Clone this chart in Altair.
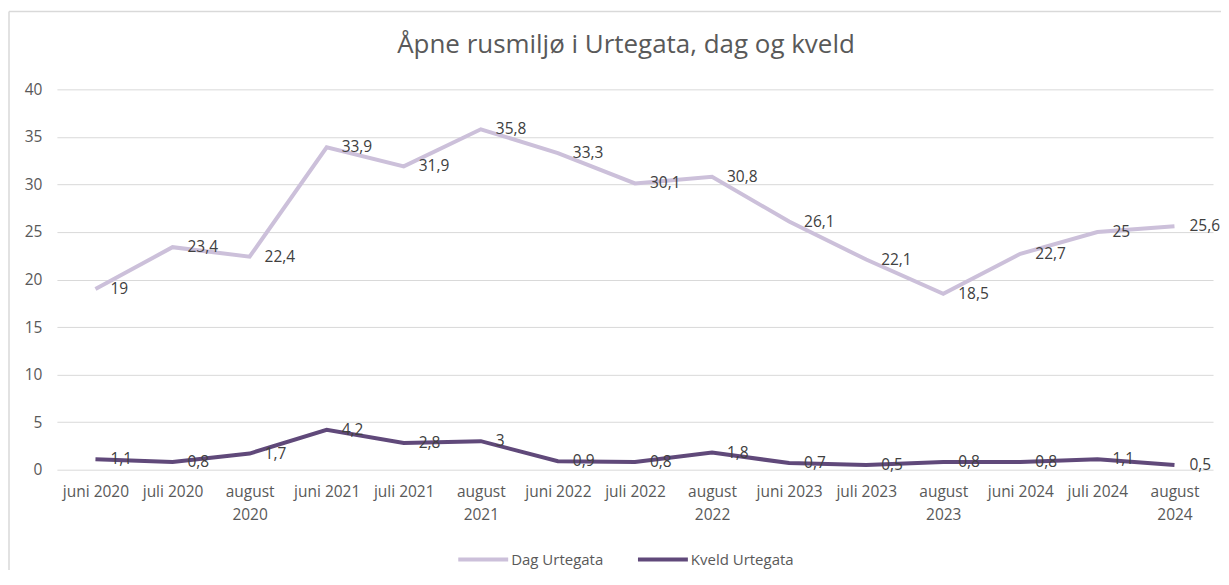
import altair as alt
import pandas as pd

categories = ["juni 2020", "juli 2020", "august 2020", "juni 2021", "juli 2021", "august 2021",
              "juni 2022", "juli 2022", "august 2022", "juni 2023", "juli 2023", "august 2023",
              "juni 2024", "juli 2024", "august 2024"]
dag = [19, 23.4, 22.4, 33.9, 31.9, 35.8, 33.3, 30.1, 30.8, 26.1, 22.1, 18.5, 22.7, 25, 25.6]
kveld = [1.1, 0.8, 1.7, 4.2, 2.8, 3, 0.9, 0.8, 1.8, 0.7, 0.5, 0.8, 0.8, 1.1, 0.5]
series = ["Dag Urtegata", "Kveld Urtegata"]
colors = ["#CCC0DA", "#60497A"]
title_text = "Åpne rusmiljø i Urtegata, dag og kveld"

rows = []
for name, vals in zip(series, [dag, kveld]):
    for i, (c, v) in enumerate(zip(categories, vals)):
        rows.append({"kat": c, "serie": name, "verdi": v, "order": i,
                     "etikett": f"{v:g}".replace(".", ",")})
df = pd.DataFrame(rows)

font = "Open Sans"
grey = "#595959"

x = alt.X("kat:N", sort=categories, scale=alt.Scale(type="point", padding=0.5),
          axis=alt.Axis(title=None, domain=False, ticks=False, grid=False, labelAngle=0,
                        labelPadding=15, labelFontSize=15.5, labelColor=grey, labelFont=font,
                        labelLineHeight=23,
                        labelExpr="indexof(datum.label, 'august') == 0 ? split(datum.label, ' ') : datum.label"))
y = alt.Y("verdi:Q", scale=alt.Scale(domain=[0, 40]),
          axis=alt.Axis(title=None, values=[0, 5, 10, 15, 20, 25, 30, 35, 40], domain=False,
                        ticks=False, labelPadding=15, labelFontSize=15.5, labelColor=grey,
                        labelFont=font, gridColor="#D9D9D9"))

color = alt.Color("serie:N", scale=alt.Scale(domain=series, range=colors),
                  legend=alt.Legend(title=None, orient="none", direction="horizontal",
                                    legendX=400, legendY=444, symbolType="stroke",
                                    symbolSize=2500, symbolStrokeWidth=4, labelOffset=1,
                                    columnPadding=26, labelFontSize=15, labelColor=grey,
                                    labelFont=font))

lines = alt.Chart(df).mark_line(strokeWidth=4).encode(
    x=x, y=y, color=color, order="order:Q", detail="serie:N")

labels = alt.Chart(df).mark_text(align="left", baseline="middle", dx=15, fontSize=15.5,
                                 color="#404040", font=font).encode(
    x=alt.X("kat:N", sort=categories, scale=alt.Scale(type="point", padding=0.5)),
    y=alt.Y("verdi:Q"), text="etikett:N")

one = pd.DataFrame({"t": [title_text]})
title = alt.Chart(one).mark_text(fontSize=26, font=font, color=grey, align="center",
                                 baseline="middle").encode(
    x=alt.value(570), y=alt.value(-44), text="t:N")
frame_left = alt.Chart(one).mark_rule(color="#D9D9D9", strokeWidth=1.5).encode(
    x=alt.value(-48), y=alt.value(-78), y2=alt.value(520))
frame_top = alt.Chart(one).mark_rule(color="#D9D9D9", strokeWidth=1.5).encode(
    x=alt.value(-48), x2=alt.value(1175), y=alt.value(-78))

chart = alt.layer(frame_left, frame_top, title, lines, labels).properties(
    width=1158, height=381,
    autosize=alt.AutoSizeParams(type="none"),
    padding={"left": 49, "top": 81, "right": 8, "bottom": 100},
).configure_view(stroke=None)

chart.save("out.html", embed_options={"renderer": "svg", "actions": False})
